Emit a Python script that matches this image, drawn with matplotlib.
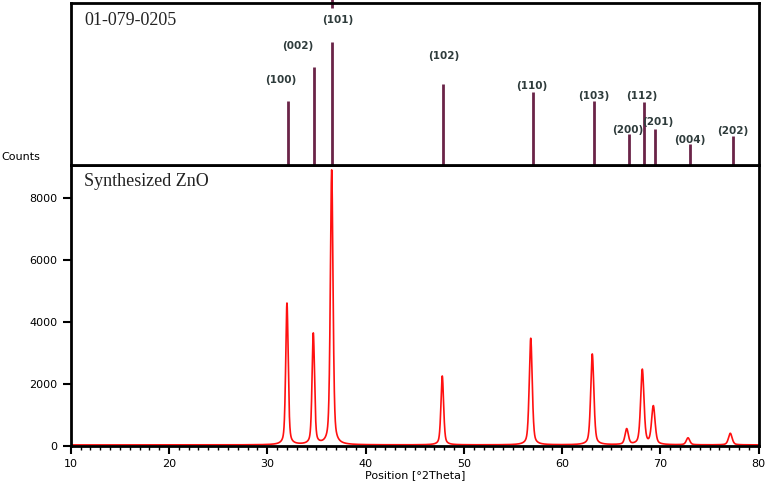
import numpy as np
import matplotlib
matplotlib.use("Agg")
import matplotlib.pyplot as plt

# ---- data ----
# reference pattern 01-079-0205 (stick positions, relative heights %)
ref_hkl = ["(100)", "(002)", "(101)", "(102)", "(110)", "(103)", "(200)", "(112)", "(201)", "(004)", "(202)"]
ref_pos = [32.1, 34.7, 36.55, 47.87, 57.0, 63.2, 66.76, 68.3, 69.4, 72.96, 77.34]
ref_height = [39.5, 60.5, 76, 50, 45, 39.5, 19, 39, 22, 13, 18]
label_x = [31.39, 33.12, 37.19, 48.0, 56.95, 63.26, 66.62, 68.14, 69.77, 72.96, 77.34]
label_y = [52.5, 73.5, 89.5, 67, 49, 42.6, 21.6, 42.6, 26.5, 15.4, 21]

# synthesized ZnO measured peaks
peak_pos = [32.0, 34.68, 36.55, 47.8, 56.8, 63.06, 66.56, 68.15, 69.27, 72.8, 77.1]
peak_counts = [4600, 3610, 8900, 2250, 3470, 2960, 530, 2450, 1260, 250, 400]
peak_fwhm = [0.3, 0.3, 0.32, 0.32, 0.36, 0.38, 0.4, 0.4, 0.42, 0.42, 0.44]
background = 25

x_ticks = [10, 20, 30, 40, 50, 60, 70, 80]
y_ticks = [0, 2000, 4000, 6000, 8000]

# ---- profile from the read peak parameters (pseudo-Voigt) ----
tt = np.linspace(10, 80, 7001)
prof = np.full_like(tt, background, dtype=float)
for p, h, w in zip(peak_pos, peak_counts, peak_fwhm):
    g = np.exp(-4 * np.log(2) * ((tt - p) / w) ** 2)
    l = 1 / (1 + 4 * ((tt - p) / w) ** 2)
    prof += (h - background) * (0.55 * g + 0.45 * l)

W, H = 767, 484
fig = plt.figure(figsize=(W / 100, H / 100), dpi=100)

L, R = 70.7, 758.8
main_top, main_bot = 165, 445.7
top_top = 3

ax = fig.add_axes([L / W, 1 - main_bot / H, (R - L) / W, (main_bot - main_top) / H])
axt = fig.add_axes([L / W, 1 - main_top / H, (R - L) / W, (main_top - top_top) / H])

# main panel
ax.plot(tt, prof, color="#ff1010", lw=1.2)
ax.set_xlim(10, 80)
ax.set_ylim(0, 9070)
ax.set_xticks(x_ticks)
ax.set_xticks(np.arange(10, 81, 1), minor=True)
ax.set_yticks(y_ticks)
for s in ax.spines.values():
    s.set_linewidth(2.0)
    s.set_color("black")
ax.tick_params(axis="both", which="major", direction="out", length=6, width=1.5,
               labelsize=8, colors="black")
ax.tick_params(axis="x", which="minor", direction="out", length=3, width=1.0)
ax.text(0.02, 0.94, "Synthesized ZnO", transform=ax.transAxes, fontsize=13,
        family="Liberation Serif", color="#222222", va="center", ha="left")
fig.text(415 / W, 1 - 475 / H, "Position [°2Theta]", fontsize=8, ha="center", va="center")
fig.text(1 / W, 1 - 157 / H, "Counts", fontsize=8, ha="left", va="center")

# top panel (reference sticks)
axt.vlines(ref_pos, 0, ref_height, colors="#6a2448", lw=2.0)
axt.vlines([ref_pos[2]], 97, 103, colors="#6a2448", lw=2.0, clip_on=False)
for lab, lx, ly in zip(ref_hkl, label_x, label_y):
    axt.text(lx, ly, lab, fontsize=7.5, fontweight="bold", color="#2e3b3b",
             ha="center", va="center")
axt.set_xlim(10, 80)
axt.set_ylim(0, 100)
axt.set_xticks([])
axt.set_yticks([])
for s in axt.spines.values():
    s.set_linewidth(2.0)
    s.set_color("black")
axt.text(0.02, 0.89, "01-079-0205", transform=axt.transAxes, fontsize=13,
         family="Liberation Serif", color="#222222", va="center", ha="left")

fig.savefig("out.png", dpi=100)
